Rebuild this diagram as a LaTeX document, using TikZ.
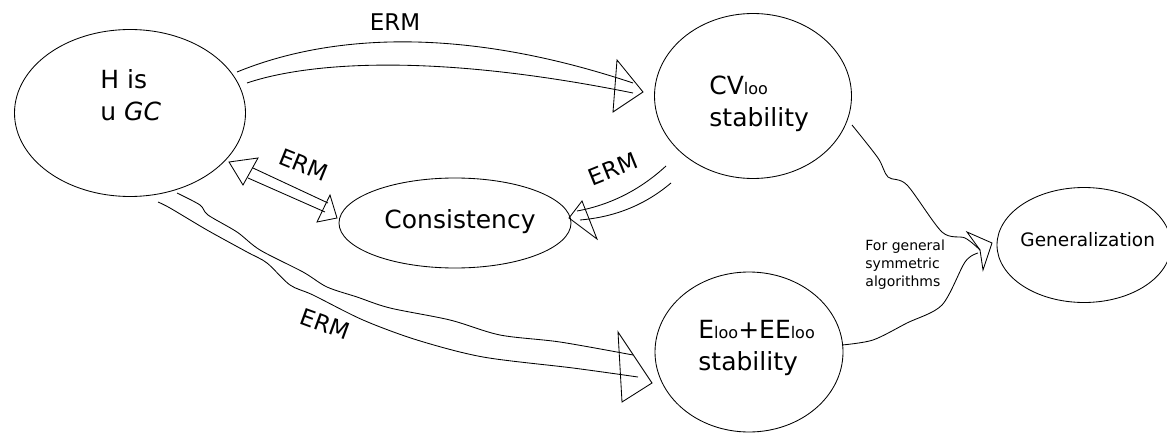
\documentclass[tikz,border=0pt]{standalone}
\usepackage{fontspec}
\setmainfont{DejaVu Sans}
\usetikzlibrary{shapes.geometric}
\newcommand{\lsub}[1]{{\fontsize{16}{16}\selectfont #1}}
\begin{document}
\begin{tikzpicture}[x=1pt,y=-1pt,line width=0.85pt,
  ell/.style={draw,ellipse,inner sep=0pt},
  big/.style={font=\fontsize{25}{32}\selectfont,align=left,inner sep=0pt},
  lab/.style={font=\fontsize{23}{23}\selectfont,inner sep=0pt},
  head/.style={draw,fill=none,line join=miter}]
\useasboundingbox (0,0) rectangle (1167,441);
% ellipses
\node[ell,minimum width=231pt,minimum height=167pt] (H) at (130,113) {};
\node[ell,minimum width=197pt,minimum height=165pt] (CV) at (753,96) {};
\node[ell,minimum width=232pt,minimum height=90pt] (C) at (455,223) {};
\node[ell,minimum width=188pt,minimum height=160pt] (E) at (749,352) {};
\node[ell,minimum width=174pt,minimum height=115pt] (G) at (1084,245) {};
% texts
\node[big,anchor=west] (Ht) at (100,95) {H is\\u \textit{GC}};
\node[big,anchor=west] (CVt) at (709,104) {CV\lsub{loo}\\stability};
\node[big,anchor=west] (Ct) at (384,222) {Consistency};
\node[big,anchor=west] (Et) at (698,348) {E\lsub{loo}+EE\lsub{loo}\\stability};
\node[font=\fontsize{18.5}{18.5}\selectfont,anchor=west,inner sep=0pt] (Gt) at (1020,240) {Generalization};
\node[font=\fontsize{14}{18}\selectfont,align=left,anchor=west,inner sep=0pt] (FG) at (865,265) {For general\\symmetric\\algorithms};
% top ERM arrow H -> CV
\draw (237,72) .. controls (320,38) and (450,22) .. (633,83);
\draw (247,83) .. controls (300,65) and (420,50) .. (633,93);
\draw[head] (617,60) -- (643,92) -- (613,112) -- cycle;
\node[lab] (l1) at (395,22) {ERM};
% H <-> Consistency
\draw (253,168) -- (328,203);
\draw (248,178) -- (325,212);
\draw[head] (229,162) -- (258,158) -- (243,185) -- cycle;
\draw[head] (337,218) -- (330,195) -- (317,222) -- cycle;
\node[lab,rotate=-22] (l2) at (304,165) {ERM};
% CV -> Consistency
\draw (666,166) .. controls (640,190) and (610,205) .. (577,211);
\draw (671,183) .. controls (645,205) and (615,217) .. (580,220);
\draw[head] (569,218) -- (582,201) -- (597,239) -- cycle;
\node[lab,rotate=22] (l3) at (613,169) {ERM};
% H -> Eloo (wavy)
\draw plot[smooth,tension=0.5] coordinates {(177,193) (200,205) (208,215) (237,232) (260,250) (303,272) (327,287) (357,297) (390,308) (450,320) (500,335) (560,342) (633,355)};
\draw plot[smooth,tension=0.5] coordinates {(158,202) (170,208) (207,230) (247,252) (267,263) (290,285) (313,295) (363,320) (417,340) (483,357) (573,368) (638,377)};
\draw[head] (618,332) -- (652,383) -- (622,402) -- cycle;
\node[lab,rotate=-20] (l4) at (325,324) {ERM};
% to Generalization
\draw plot[smooth,tension=0.5] coordinates {(852,125) (878,158) (888,177) (907,185) (942,232) (965,238) (980,250)};
\draw plot[smooth,tension=0.5] coordinates {(842,345) (873,340) (907,323) (942,305) (965,262) (978,253)};
\draw[head] (967,232) -- (992,243) -- (983,270) -- (980,250) -- cycle;
\end{tikzpicture}
\end{document}
